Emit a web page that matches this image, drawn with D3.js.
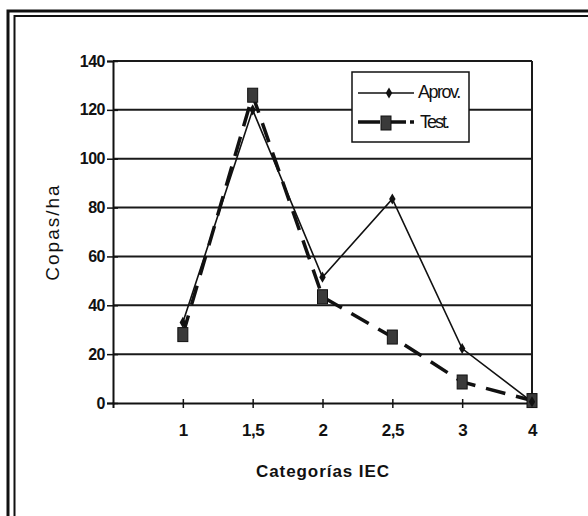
<!DOCTYPE html>
<html>
<head>
<meta charset="utf-8">
<script src="https://cdn.jsdelivr.net/npm/d3@7"></script>
<style>
  body { margin: 0; background: #fff; }
  svg { display: block; }
  text { font-family: "Liberation Sans", Arial, sans-serif; fill: #111; }
</style>
</head>
<body>
<svg id="chart" width="588" height="516"></svg>
<script>
// Valeurs
const categorias = ["1", "1,5", "2", "2,5", "3", "4"];
const aprov = [33, 120, 51.5, 83.5, 22.3, 0.5];
const test = [28, 126, 43.5, 27, 8.6, 1];
const yTicks = [0, 20, 40, 60, 80, 100, 120, 140];

const svg = d3.select("#chart");

// Cadre double (scan)
const frame = svg.append("g").attr("fill", "none").attr("stroke", "#111");
frame.append("path").attr("d", "M8,516 V11 H588").attr("stroke-width", 3);
frame.append("path").attr("d", "M14.5,516 V16 H588").attr("stroke-width", 2);

const plot = { left: 113, right: 532, top: 61, bottom: 403 };

const x = d3.scaleLinear()
    .domain([0, categorias.length])
    .range([plot.left, plot.right]);

const y = d3.scaleLinear()
    .domain([0, 140])
    .range([plot.bottom, plot.top]);

// Grille horizontale
svg.append("g")
    .selectAll("line")
    .data(yTicks.filter(d => d > 0))
    .join("line")
    .attr("x1", plot.left)
    .attr("x2", plot.right)
    .attr("y1", d => y(d))
    .attr("y2", d => y(d))
    .attr("stroke", "#1a1a1a")
    .attr("stroke-width", 2);

// Bordure droite
svg.append("line")
    .attr("x1", plot.right).attr("x2", plot.right)
    .attr("y1", plot.top).attr("y2", plot.bottom)
    .attr("stroke", "#1a1a1a")
    .attr("stroke-width", 2);

// Axe Y
const yAxis = svg.append("g")
    .attr("transform", `translate(${plot.left},0)`)
    .call(d3.axisLeft(y).tickValues(yTicks).tickSize(6).tickPadding(5));
yAxis.select(".domain").attr("stroke", "#111").attr("stroke-width", 2);
yAxis.selectAll(".tick line").attr("x1", 5).attr("x2", -6).attr("stroke", "#111").attr("stroke-width", 1.5);
yAxis.selectAll(".tick text")
    .attr("x", -8)
    .style("font-size", "16px")
    .style("font-weight", "bold")
    .style("letter-spacing", "-0.5px");

// Axe X (catégories)
const xAxis = svg.append("g")
    .attr("transform", `translate(0,${plot.bottom})`)
    .call(d3.axisBottom(x)
        .tickValues(d3.range(1, categorias.length + 1))
        .tickFormat(i => categorias[i - 1])
        .tickSize(5)
        .tickPadding(16));
xAxis.select(".domain").attr("stroke", "#111").attr("stroke-width", 2);
xAxis.selectAll(".tick line").attr("y1", -4).attr("y2", 5).attr("stroke", "#111").attr("stroke-width", 1.5);
xAxis.selectAll(".tick text")
    .style("font-size", "17px")
    .style("font-weight", "bold")
    .style("letter-spacing", "-0.5px");

// Série Test : tirets épais + carrés
const line = d3.line()
    .x((d, i) => x(i + 1))
    .y(d => y(d));

svg.append("path")
    .datum(test)
    .attr("d", line)
    .attr("fill", "none")
    .attr("stroke", "#111")
    .attr("stroke-width", 3.5)
    .attr("stroke-dasharray", "20,11");

// Série Aprov. : trait fin + losanges
svg.append("path")
    .datum(aprov)
    .attr("d", line)
    .attr("fill", "none")
    .attr("stroke", "#111")
    .attr("stroke-width", 1.6);

svg.append("g")
    .selectAll("rect")
    .data(test)
    .join("rect")
    .attr("x", (d, i) => x(i + 1) - 5)
    .attr("y", d => y(d) - 7)
    .attr("width", 10)
    .attr("height", 14)
    .attr("fill", "#3a3a3a")
    .attr("stroke", "#111")
    .attr("stroke-width", 1);

const diamond = d3.symbol().type(d3.symbolDiamond).size(36);
svg.append("g")
    .selectAll("path")
    .data(aprov)
    .join("path")
    .attr("transform", (d, i) => `translate(${x(i + 1)},${y(d)})`)
    .attr("d", diamond)
    .attr("fill", "#111");

// Légende
const legend = svg.append("g");
legend.append("rect")
    .attr("x", 352).attr("y", 72)
    .attr("width", 117).attr("height", 70)
    .attr("fill", "#fff")
    .attr("stroke", "#111")
    .attr("stroke-width", 1.5);

legend.append("line")
    .attr("x1", 358).attr("x2", 414).attr("y1", 93).attr("y2", 93)
    .attr("stroke", "#111").attr("stroke-width", 1.6);
legend.append("path")
    .attr("transform", "translate(389,93)")
    .attr("d", diamond)
    .attr("fill", "#111");
legend.append("text")
    .attr("x", 418).attr("y", 98)
    .style("font-size", "18px")
    .style("letter-spacing", "-1.5px")
    .text("Aprov.");

legend.append("line")
    .attr("x1", 358).attr("x2", 414).attr("y1", 122).attr("y2", 122)
    .attr("stroke", "#111").attr("stroke-width", 3.5)
    .attr("stroke-dasharray", "22,4");
legend.append("rect")
    .attr("x", 381).attr("y", 116)
    .attr("width", 10).attr("height", 14)
    .attr("fill", "#3a3a3a").attr("stroke", "#111");
legend.append("text")
    .attr("x", 420).attr("y", 128)
    .style("font-size", "18px")
    .style("letter-spacing", "-2px")
    .text("Test.");

// Titres des axes
svg.append("text")
    .attr("transform", "translate(59,232) rotate(-90)")
    .attr("text-anchor", "middle")
    .style("font-size", "19px")
    .style("letter-spacing", "2px")
    .text("Copas/ha");

svg.append("text")
    .attr("x", 322)
    .attr("y", 477)
    .attr("text-anchor", "middle")
    .attr("textLength", 132)
    .style("font-size", "17px")
    .style("font-weight", "bold")
    .style("letter-spacing", "-1px")
    .text("Categorías IEC");
</script>
</body>
</html>
